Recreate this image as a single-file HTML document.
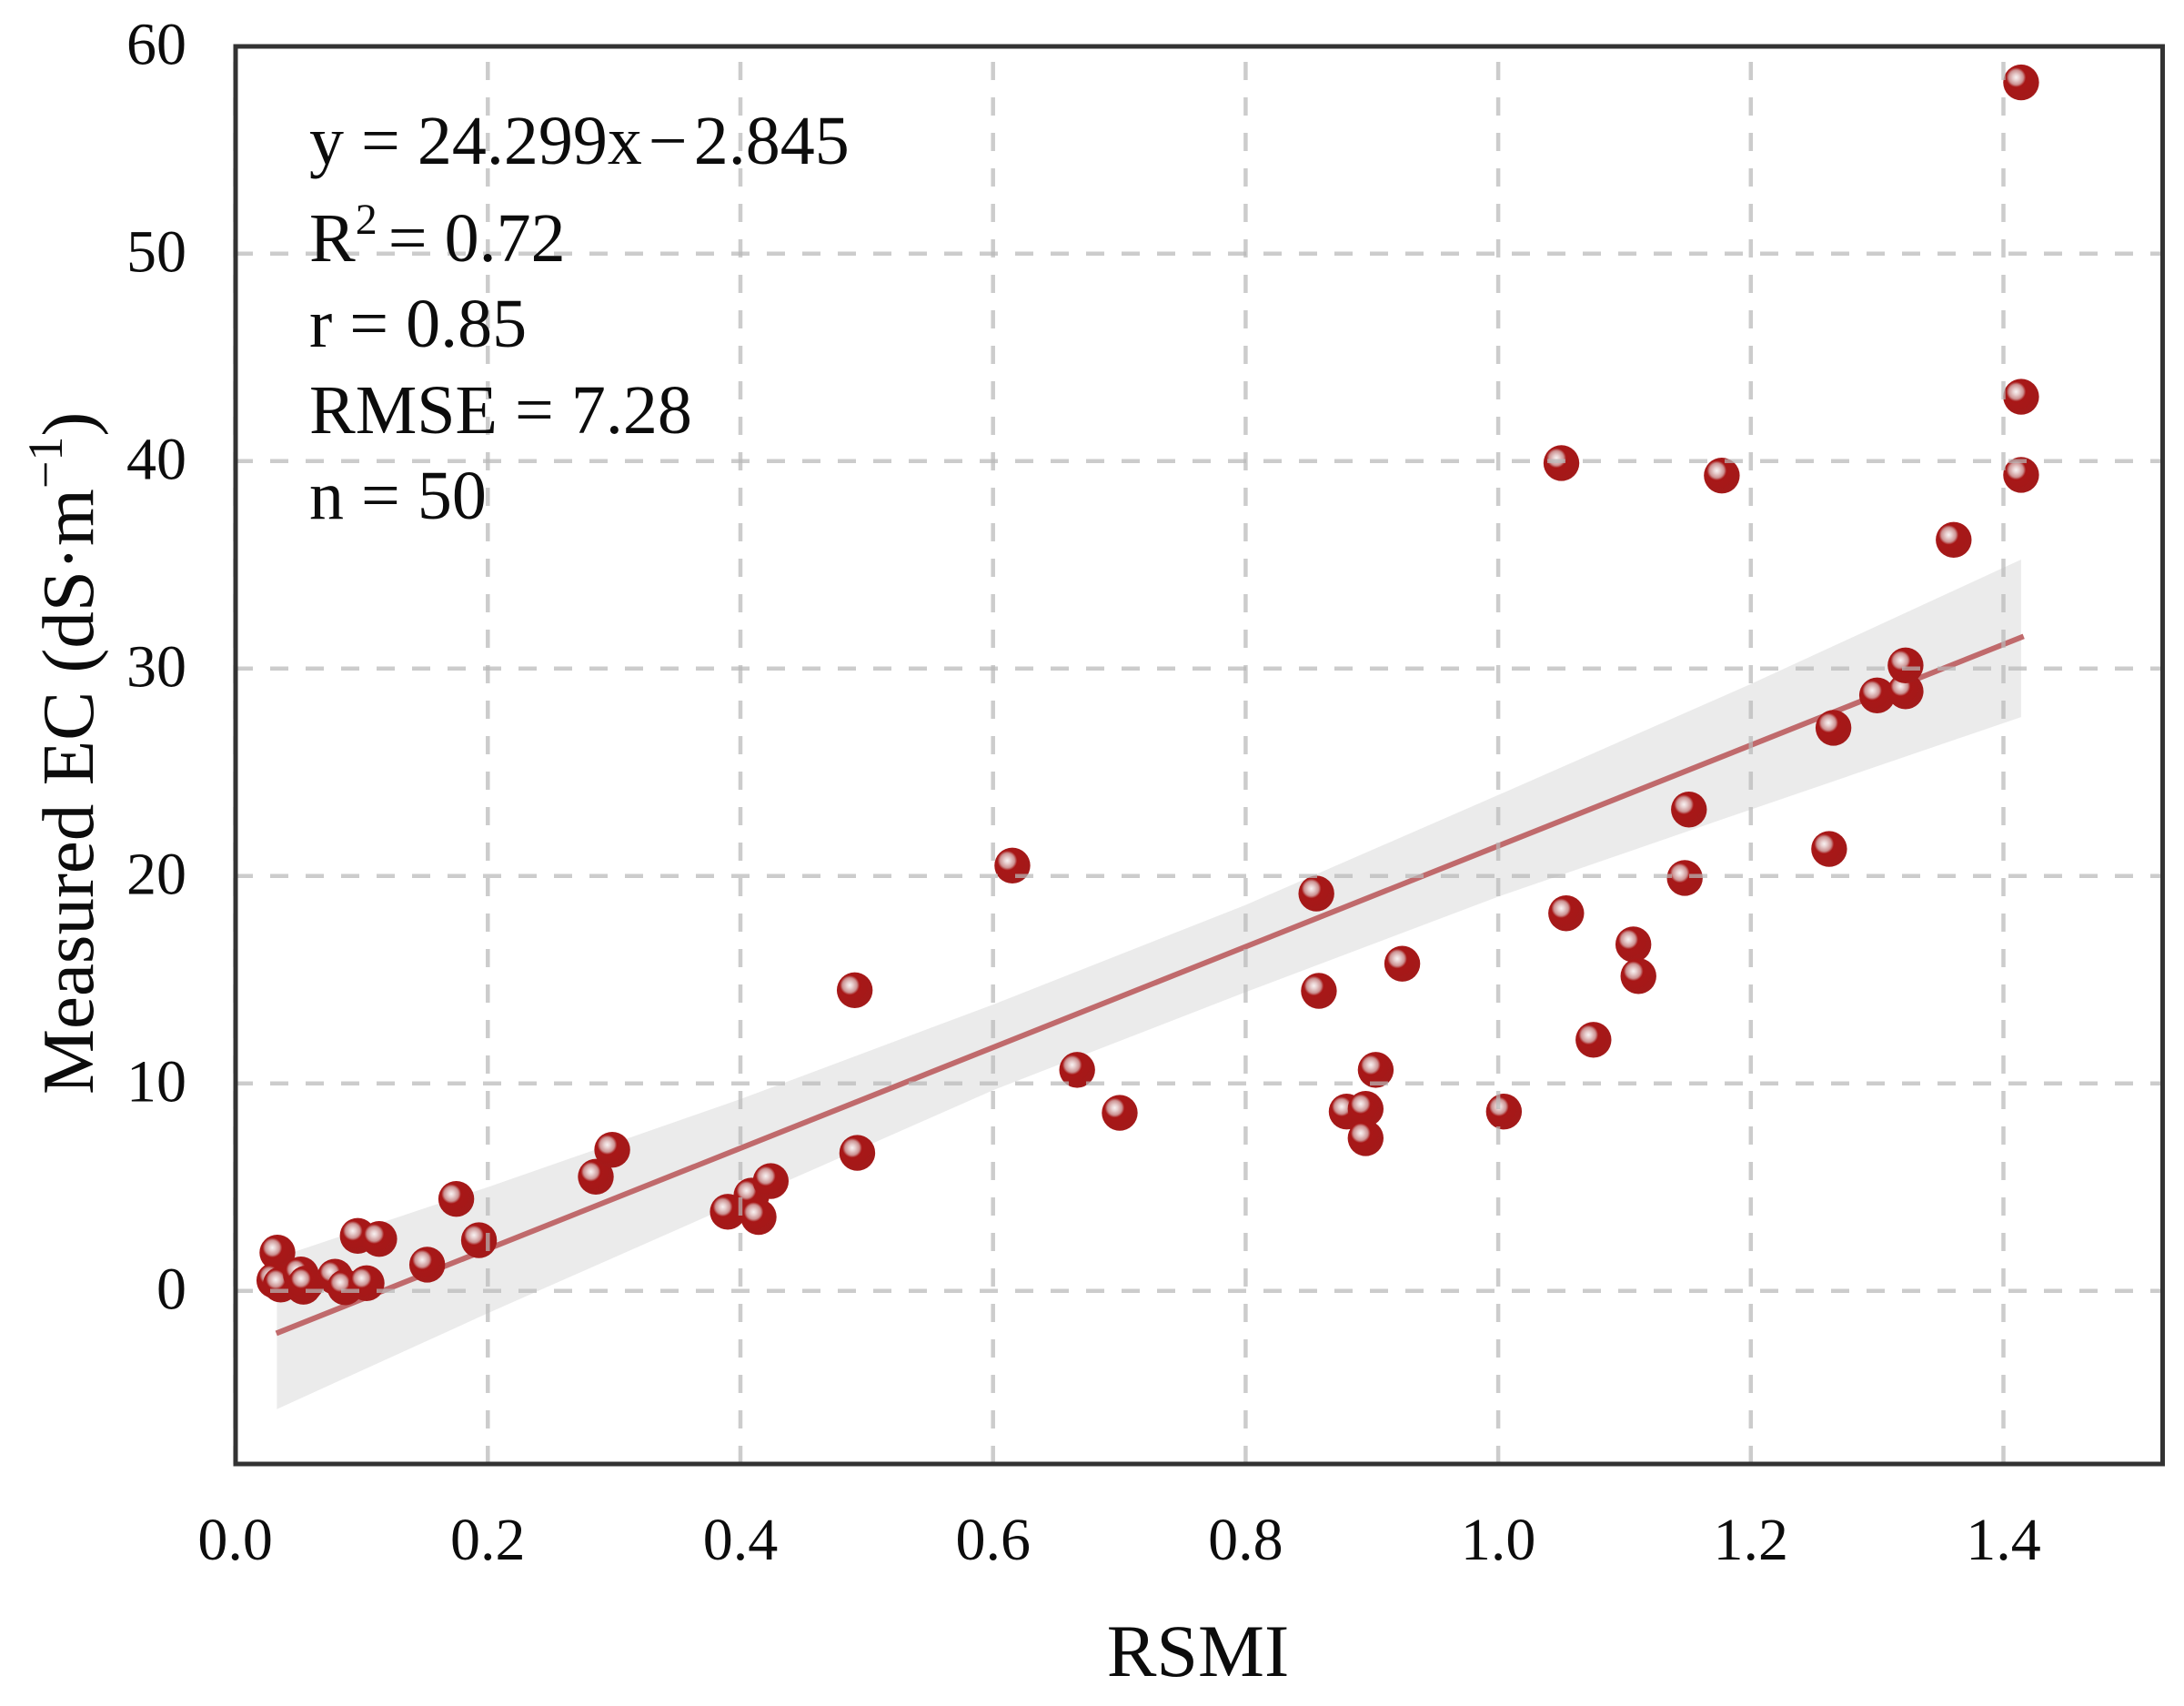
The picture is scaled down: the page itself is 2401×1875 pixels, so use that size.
<!DOCTYPE html>
<html lang="en">
<head>
<meta charset="utf-8">
<title>Measured EC vs RSMI</title>
<style>
html,body{margin:0;padding:0;background:#fff;}
svg{display:block;}
text{font-family:"Liberation Serif",serif;fill:#0c0c0c;}
</style>
</head>
<body>
<svg id="chart" xmlns="http://www.w3.org/2000/svg" width="2401" height="1875" viewBox="0 0 2401 1875">
  <defs>
    <radialGradient id="ball" cx="0.36" cy="0.36" r="0.72">
      <stop offset="0" stop-color="#f8f2f2"/>
      <stop offset="0.12" stop-color="#e8cfcf"/>
      <stop offset="0.28" stop-color="#cc9292"/>
      <stop offset="0.38" stop-color="#a81717"/>
      <stop offset="1" stop-color="#a21a1a"/>
    </radialGradient>
  </defs>
  <rect x="0" y="0" width="2401" height="1875" fill="#fff"/>
  <g id="band-layer"></g>
  <g id="line-layer"></g>
  <g id="point-layer"></g>
  <g id="grid-layer"></g>
  <rect x="259" y="51" width="2118.5" height="1558" fill="none" stroke="#333" stroke-width="5"/>
  <g id="xtick-layer"></g>
  <g id="ytick-layer"></g>
  <text x="1317" y="1842" font-size="82" text-anchor="middle">RSMI</text>
  <text transform="translate(102,1203) rotate(-90)" font-size="81">Measured EC (dS·m<tspan font-size="54" dy="-34">−1</tspan><tspan dy="34">)</tspan></text>
  <g font-size="76">
    <text x="340" y="180">y = 24.299x<tspan dx="7">−</tspan><tspan dx="7">2.845</tspan></text>
    <text x="340" y="287">R<tspan font-size="48" dy="-30">2</tspan><tspan dy="30" dx="12">= 0.72</tspan></text>
    <text x="340" y="381">r = 0.85</text>
    <text x="340" y="476">RMSE = 7.28</text>
    <text x="340" y="570">n = 50</text>
  </g>
</svg>
<script>
const xTickValues = [0, 0.2, 0.4, 0.6, 0.8, 1.0, 1.2, 1.4];
const xTickLabels = ["0.0", "0.2", "0.4", "0.6", "0.8", "1.0", "1.2", "1.4"];
const yTickValues = [0, 10, 20, 30, 40, 50, 60];
const yTickLabels = ["0", "10", "20", "30", "40", "50", "60"];

const rsmi = [0.0334, 0.031, 0.036, 0.052, 0.054, 0.056, 0.079, 0.087, 0.104, 0.097, 0.114, 0.152, 0.193, 0.175,
  0.2855, 0.2985, 0.39, 0.4087, 0.4144, 0.424, 0.4905, 0.4925, 0.6153, 0.6666, 0.7003, 0.856, 0.858, 0.88, 0.895,
  0.903, 0.895, 0.924, 1.0045, 1.05, 1.0538, 1.0754, 1.107, 1.111, 1.1477, 1.151, 1.177, 1.262, 1.2654, 1.3, 1.3225,
  1.3225, 1.3606, 1.414, 1.414, 1.414];
const measuredEc = [1.84, 0.5, 0.3, 0.79, 0.2, 0.35, 0.68, 0.17, 0.37, 2.65, 2.5, 1.26, 2.44, 4.43,
  5.5, 6.8, 3.81, 4.59, 3.56, 5.29, 14.49, 6.65, 20.5, 10.65, 8.58, 19.15, 14.46, 8.64, 8.77,
  10.65, 7.36, 15.77, 8.64, 39.9, 18.2, 12.1, 16.7, 15.17, 19.9, 23.2, 39.3, 21.3, 27.14, 28.7, 28.9,
  30.15, 36.2, 58.25, 43.1, 39.33];

const fitX = [0.0325, 1.416];
const fitY = [-2.05, 31.55];

const bandX = [0.033, 0.2, 0.4, 0.6, 0.8, 1.0, 1.2, 1.414];
const bandUpper = [1.6, 5.0, 9.24, 13.8, 18.6, 23.9, 29.25, 35.25];
const bandLower = [-5.7, -1.08, 4.3, 9.67, 14.4, 19.0, 23.2, 27.66];

const SVG_NS = "http://www.w3.org/2000/svg";
const plotLeft = 258, plotRight = 2377, plotTop = 51, plotBottom = 1609;
function xScale(v) { return 258.6 + v * 1388.5; }
function yScale(v) { return 1418.7 - v * 22.8; }
function make(tag, attrs) {
  const el = document.createElementNS(SVG_NS, tag);
  for (const k in attrs) el.setAttribute(k, attrs[k]);
  return el;
}

const bandLayer = document.getElementById("band-layer");
const upperPts = bandX.map((x, i) => xScale(x).toFixed(1) + "," + yScale(bandUpper[i]).toFixed(1));
const lowerPts = bandX.map((x, i) => xScale(x).toFixed(1) + "," + yScale(bandLower[i]).toFixed(1)).reverse();
const band = make("polygon", { points: upperPts.concat(lowerPts).join(" "), fill: "#ebebeb" });


bandLayer.appendChild(band);

const lineLayer = document.getElementById("line-layer");
const fit = make("line", { x1: xScale(fitX[0]), y1: yScale(fitY[0]), x2: xScale(fitX[1]), y2: yScale(fitY[1]), stroke: "#c06a6c", "stroke-width": 6 });


lineLayer.appendChild(fit);

const pointLayer = document.getElementById("point-layer");
rsmi.forEach((x, i) => {
  const c = make("circle", { cx: xScale(x), cy: yScale(measuredEc[i]), r: 19.7, fill: "url(#ball)" });
  
  
  pointLayer.appendChild(c);
});

const gridLayer = document.getElementById("grid-layer");
xTickValues.forEach((v) => {
  const l = make("line", { x1: xScale(v), y1: plotBottom, x2: xScale(v), y2: plotTop, stroke: "#b8b8b8", "stroke-opacity": 0.72, "stroke-width": 4.5, "stroke-dasharray": "20 19" });
  
  
  gridLayer.appendChild(l);
});
yTickValues.forEach((v) => {
  const l = make("line", { x1: plotLeft, y1: yScale(v), x2: plotRight, y2: yScale(v), stroke: "#b8b8b8", "stroke-opacity": 0.72, "stroke-width": 4.5, "stroke-dasharray": "20 19" });
  
  
  gridLayer.appendChild(l);
});

const xtickLayer = document.getElementById("xtick-layer");
xTickValues.forEach((v, i) => {
  const t = make("text", { x: xScale(v), y: 1714, "font-size": 66, "text-anchor": "middle" });
  t.textContent = xTickLabels[i];
  
  
  xtickLayer.appendChild(t);
});

const ytickLayer = document.getElementById("ytick-layer");
yTickValues.forEach((v, i) => {
  const t = make("text", { x: 205, y: yScale(v) + 20, "font-size": 66, "text-anchor": "end" });
  t.textContent = yTickLabels[i];
  
  
  ytickLayer.appendChild(t);
});
</script>
</body>
</html>
